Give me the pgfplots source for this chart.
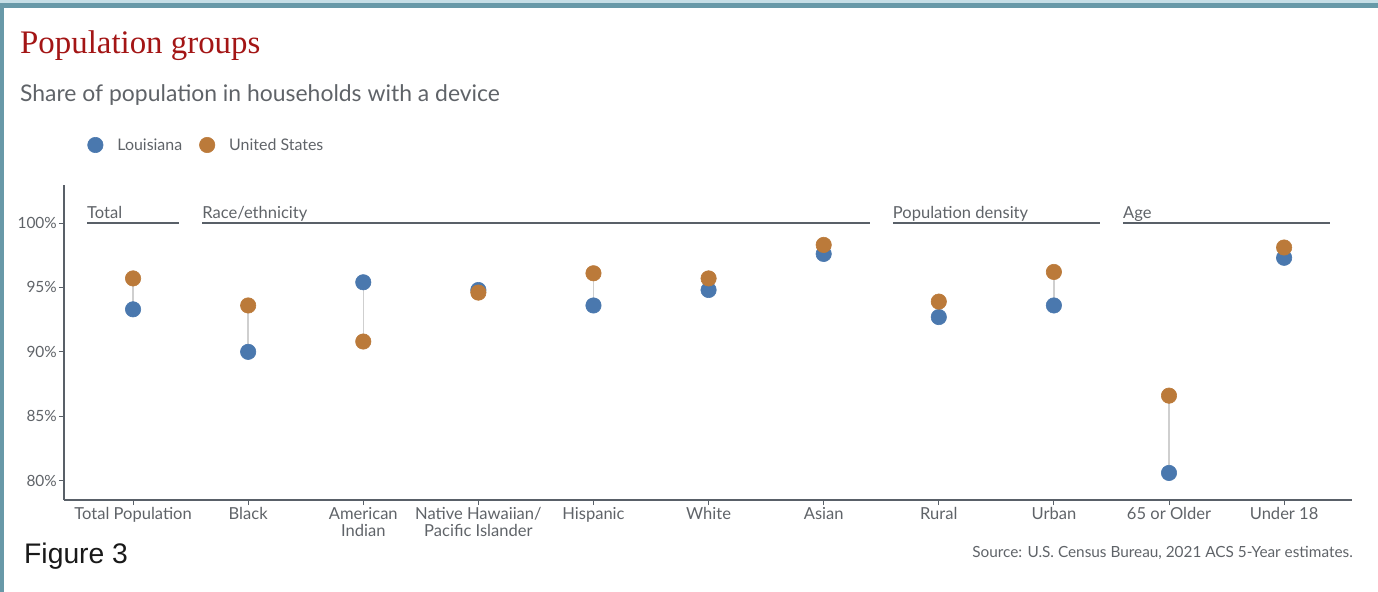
\documentclass[border=0pt]{standalone}
\usepackage{pgfplots}
\pgfplotsset{compat=1.18}
\usepackage{pgfplotstable}
\usepackage{fontspec}
\setmainfont{Lato}
\newfontfamily\titlefont{Liberation Serif}
\newfontfamily\figfont{Liberation Sans}

\definecolor{lablue}{HTML}{4A78AE}
\definecolor{usorange}{HTML}{BB7A3A}
\definecolor{txtgray}{HTML}{5F6368}
\definecolor{axgray}{HTML}{596068}
\definecolor{titlered}{HTML}{A31515}
\definecolor{borderteal}{HTML}{6899A8}
\definecolor{borderlight}{HTML}{C6DEE6}
\definecolor{stemgray}{HTML}{CFCFCF}

% share of population in households with a device (%)
\pgfplotstableread{
x  la    us
0  93.3  95.7
1  90.0  93.6
2  95.4  90.8
3  94.8  94.6
4  93.6  96.1
5  94.8  95.7
6  97.6  98.3
7  92.7  93.9
8  93.6  96.2
9  80.6  86.6
10 97.3  98.1
}\devices

\begin{document}
\begin{tikzpicture}
\path[use as bounding box] (0bp,0bp) rectangle (1378bp,-592bp);
\fill[borderlight] (0bp,0bp) rectangle (1378bp,-3bp);
\fill[borderteal] (0bp,-3bp) rectangle (1378bp,-8bp);
\fill[borderteal] (0bp,-3bp) rectangle (4bp,-592bp);

\node[anchor=base west, inner sep=0, text=titlered,
  font=\titlefont\fontsize{33}{37}\selectfont] at (20bp,-53bp) {Population groups};
\node[anchor=base west, inner sep=0, text=txtgray,
  font=\fontsize{23}{27}\selectfont] at (20bp,-101bp) {Share of population in households with a device};

\begin{axis}[
  at={(64bp,-500bp)}, anchor=south west,
  scale only axis, width=1288bp, height=315bp,
  xmin=-0.6, xmax=10.59, ymin=78.5, ymax=102.95,
  axis x line*=bottom, axis y line*=left,
  axis line style={axgray, line width=1.6bp, -},
  tick style={axgray, line width=1bp},
  tick align=outside, major tick length=5bp,
  xtick={0,...,10},
  xticklabels={Total Population, Black, {American\\Indian}, {Native Hawaiian/\\Pacific Islander},
    Hispanic, White, Asian, Rural, Urban, 65 or Older, Under 18},
  ytick={80,85,90,95,100},
  yticklabel={\pgfmathprintnumber{\tick}\%},
  /pgf/number format/assume math mode=true,
  tick label style={text=txtgray},
  xticklabel style={align=center, inner sep=2bp, font=\fontsize{16.6}{17}\selectfont},
  yticklabel style={inner sep=2bp, font=\fontsize{15.5}{17}\selectfont},
  clip=false,
  legend style={at={(axis description cs:0.018,1.127)}, anchor=west,
    draw=none, fill=none, legend columns=-1, text=txtgray,
    font=\fontsize{16}{18}\selectfont, inner sep=0pt,
    /tikz/every even column/.append style={column sep=15bp}},
  legend image code/.code={\draw[#1] plot coordinates {(0bp,0bp)}; \path[draw=none, fill=none] (-8bp,0bp) -- (20bp,0bp);},
]
\addplot[forget plot, draw=none, mark=none,
  error bars/.cd, y dir=plus, y explicit, error mark=none,
  error bar style={stemgray, line width=1.5bp}]
  table[x=x, y expr={min(\thisrow{la},\thisrow{us})}, y error expr={abs(\thisrow{us}-\thisrow{la})}] {\devices};
\addplot[lablue, only marks, mark=*, mark size=7.7bp, mark options={draw=lablue, fill=lablue, line width=0.6bp}]
  table[x=x, y=la] {\devices};
\addplot[usorange, only marks, mark=*, mark size=7.7bp, mark options={draw=usorange, fill=usorange, line width=0.6bp}]
  table[x=x, y=us] {\devices};
\legend{Louisiana, United States}

% group headers
\begin{scope}[axgray, line width=1.3bp]
\draw (axis cs:-0.4,100) -- (axis cs:0.4,100);
\draw (axis cs:0.6,100) -- (axis cs:6.4,100);
\draw (axis cs:6.6,100) -- (axis cs:8.4,100);
\draw (axis cs:8.6,100) -- (axis cs:10.4,100);
\end{scope}
\begin{scope}[every node/.style={anchor=base west, inner sep=0, text=txtgray,
    font=\fontsize{16.6}{18}\selectfont, yshift=4.5bp}]
\node at (axis cs:-0.4,100) {Total};
\node at (axis cs:0.6,100) {Race/ethnicity};
\node at (axis cs:6.6,100) {Population density};
\node at (axis cs:8.6,100) {Age};
\end{scope}
\end{axis}

\node[anchor=base west, inner sep=0, text=black!90,
  font=\figfont\fontsize{28.4}{32}\selectfont] at (24bp,-563bp) {Figure 3};
\node[anchor=base east, inner sep=0, text=txtgray,
  font=\fontsize{15.4}{17}\selectfont] at (1353bp,-557bp) {Source: U.S. Census Bureau, 2021 ACS 5-Year estimates.};
\end{tikzpicture}
\end{document}
